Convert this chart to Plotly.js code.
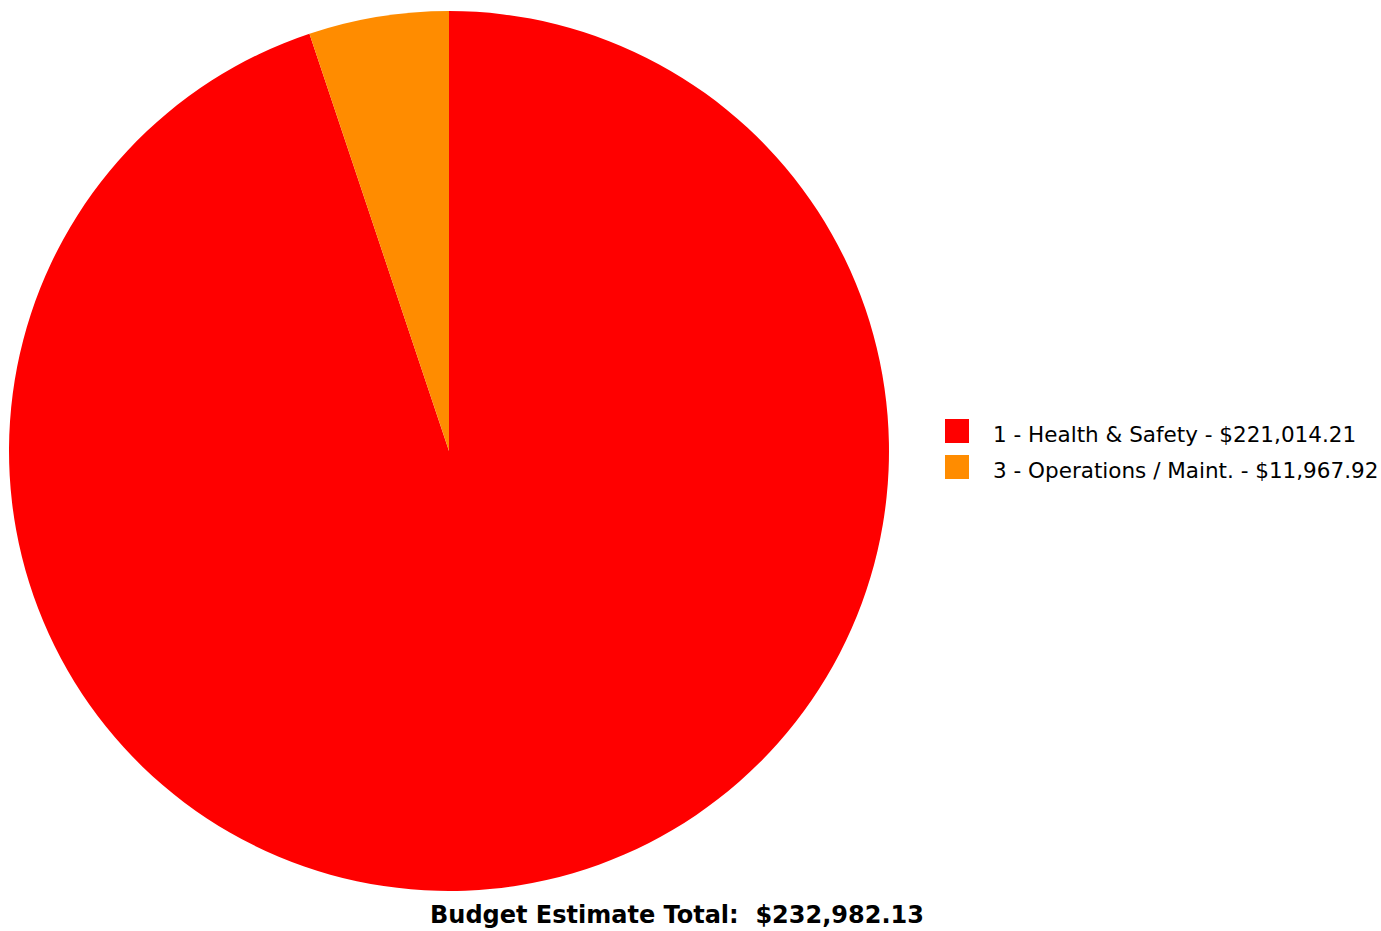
<!DOCTYPE html>
<html>
<head>
<meta charset="utf-8">
<script src="https://cdn.plot.ly/plotly-3.0.1.min.js"></script>
<style>html,body{margin:0;padding:0;background:#fff;}#chart{width:1381px;height:931px;}</style>
</head>
<body>
<div id="chart"></div>
<script>
const categories = ["1 - Health & Safety", "3 - Operations / Maint."];
const values = [221014.21, 11967.92];
const colors = ["#ff0000", "#ff8c00"];
const totalLabel = "Budget Estimate Total:";

const fmt = v => "$" + v.toLocaleString("en-US", {minimumFractionDigits: 2, maximumFractionDigits: 2});
const total = values.reduce((a, b) => a + b, 0);
const W = 1381, H = 931;
const font = "DejaVu Sans, sans-serif";

const shapes = [], annotations = [];
categories.forEach((c, i) => {
  const cy = 431 + i * 36;
  shapes.push({type: "rect", xref: "paper", yref: "paper",
    x0: 945 / W, x1: 969 / W, y0: 1 - (cy + 12) / H, y1: 1 - (cy - 12) / H,
    fillcolor: colors[i], line: {width: 0}});
  annotations.push({xref: "paper", yref: "paper", x: 991 / W, y: 1 - (cy + 3) / H,
    xanchor: "left", yanchor: "middle", showarrow: false,
    text: c + " - " + fmt(values[i]), font: {family: font, size: 21.5, color: "#000"}});
});
annotations.push({xref: "paper", yref: "paper", x: 677 / W, y: 1 - 915 / H,
  xanchor: "center", yanchor: "middle", showarrow: false,
  text: "<b>" + totalLabel + "\u00a0 " + fmt(total) + "</b>",
  font: {family: font, size: 24, color: "#000"}});

Plotly.newPlot("chart", [{
  type: "pie", labels: categories, values: values, sort: false,
  direction: "clockwise", rotation: 0,
  marker: {colors: colors, line: {width: 0}},
  textinfo: "none", hoverinfo: "label+value+percent",
  domain: {x: [9 / W, 889 / W], y: [1 - 891 / H, 1 - 11 / H]}
}], {
  width: W, height: H, margin: {l: 0, r: 0, t: 0, b: 0},
  paper_bgcolor: "#fff", showlegend: false,
  shapes: shapes, annotations: annotations
}, {displayModeBar: false, staticPlot: true});
</script>
</body>
</html>
